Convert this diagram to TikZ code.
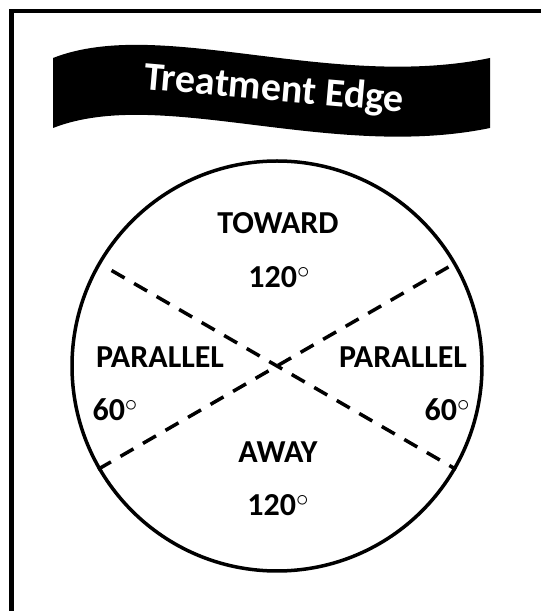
\documentclass[tikz,border=0pt]{standalone}
\usepackage{fontspec}
\setmainfont{Carlito}
\usetikzlibrary{calc}

\newcommand{\degmark}{\raisebox{9pt}{\fontsize{24}{24}\selectfont$\circ$}}

\begin{document}
\begin{tikzpicture}[x=1pt,y=1pt,line width=3.5pt]
    \edef\dialradius{205pt}
    \tikzstyle{sector}=[font=\fontsize{32}{38}\selectfont\bfseries]
    \tikzstyle{divider}=[dash pattern=on 15pt off 11pt]

    \useasboundingbox (0,0) rectangle (541,611);
    % frame, only top and left edge inside the picture
    \draw[line width=4.5pt] (541,600) -- (11.5,600) -- (11.5,0);

    % banner
    \fill (53,553) .. controls (160,595) and (330,520) .. (490,553)
       -- (490,483) .. controls (330,450) and (160,525) .. (53,483) -- cycle;
    \node[text=white,rotate=-5,font=\fontsize{40}{46}\selectfont\bfseries] (title) at (274,521) {Treatment Edge};

    % dial
    \node[draw,circle,minimum size=2*\dialradius,inner sep=0pt] (dial) at (277,245) {};
    \coordinate (tl) at ($(dial.center)+(150:191pt)$);
    \coordinate (tr) at ($(dial.center)+(30:198pt)$);
    \draw[divider] (tl) -- (dial.-30);
    \draw[divider] (dial.210) -- (tr);

    \node[sector] (toward)  at (278,388) {TOWARD};
    \node[sector] (towardA) at (279,334) {120\degmark};
    \node[sector] (parL)    at (160,254) {PARALLEL};
    \node[sector] (parLA)   at (115,201) {60\degmark};
    \node[sector] (parR)    at (403,254) {PARALLEL};
    \node[sector] (parRA)   at (447,201) {60\degmark};
    \node[sector] (away)    at (278,159) {AWAY};
    \node[sector] (awayA)   at (278,106) {120\degmark};
\end{tikzpicture}
\end{document}
